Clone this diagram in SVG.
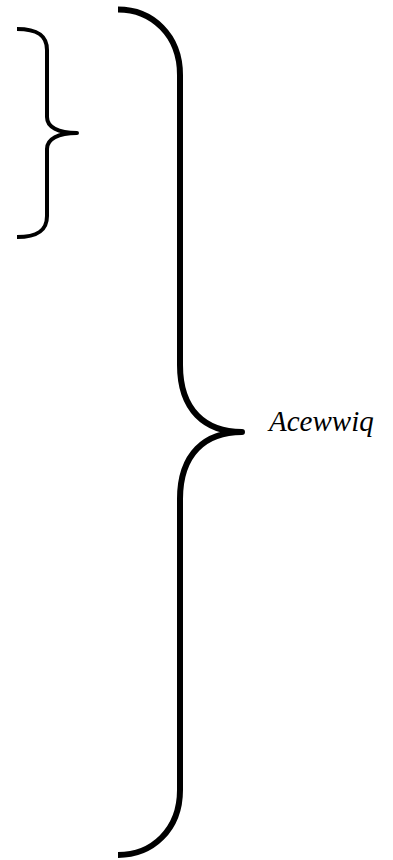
<svg xmlns="http://www.w3.org/2000/svg" width="393" height="860" viewBox="0 0 393 860">
<style>
.brace{fill:none;stroke:#000;stroke-linejoin:round;stroke-linecap:butt}
.lbl{font-family:"Liberation Serif","Times New Roman",serif;font-style:italic;font-size:29px;fill:#000}
</style>
<rect width="393" height="860" fill="#fff"/>
<g id="brace-small">
<path class="brace" stroke-width="4" d="M17,29 C37,29 47,35 47,50 L47,117 C47,127 58,133 77,133 C58,133 47,139 47,149 L47,216 C47,231 37,237 17,237"/>
</g>
<g id="brace-large">
<path class="brace" stroke-width="6" d="M118,9.5 C152,9.5 180,35 180,75 L180,365 C180,410 205,432 242,432 C205,432 180,454 180,499 L180,790 C180,830 152,855 118,855"/>
</g>
<g id="label">
<text class="lbl" x="269" y="431">Acewwiq</text>
</g>
</svg>
